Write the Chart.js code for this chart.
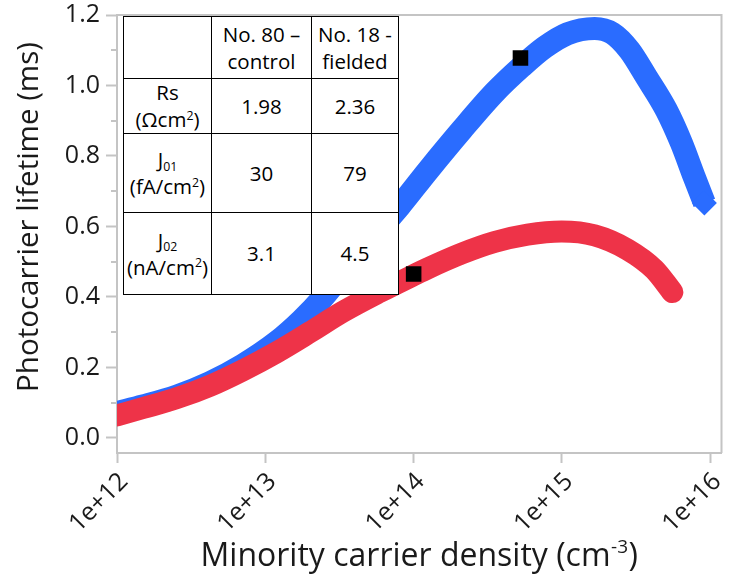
<!DOCTYPE html>
<html>
<head>
<meta charset="utf-8">
<title>Photocarrier lifetime vs minority carrier density</title>
<script src="https://cdn.jsdelivr.net/npm/chart.js@4.4.1/dist/chart.umd.min.js"></script>
<style>
  html, body { margin: 0; padding: 0; background: #fff; }
  #wrap { position: relative; width: 734px; height: 577px; }
  #plot { position: absolute; left: 0; top: 0; }
  #params {
    position: absolute; left: 123px; top: 16px;
    border-collapse: collapse; table-layout: fixed;
    background: #fff; font-family: "Open Sans", sans-serif; font-size: 20.5px; color: #000;
  }
  #params td {
    border: 1.5px solid #000; padding: 0; text-align: center; vertical-align: middle;
    line-height: 27px; white-space: nowrap;
  }
  #params sup, #params sub { font-size: 0.6em; line-height: 0; position: relative; vertical-align: baseline; }
  #params sup { top: -0.6em; }
  #params sub { top: 0.3em; }
</style>
</head>
<body>
<div id="wrap">
  <canvas id="plot" width="734" height="577"></canvas>
  <table id="params"></table>
</div>
<script>
// Upper curve (blue diamonds): minority carrier density (cm^-3) and lifetime (ms)
const densityBlue = [1.00e12, 1.50e12, 2.53e12, 4.23e12, 7.05e12, 1.19e13, 1.76e13, 2.44e13,
  4.33e13, 8.05e13, 1.24e14, 2.10e14, 3.51e14, 5.33e14, 7.62e14, 1.09e15, 1.66e15, 2.19e15,
  2.85e15, 3.71e15, 5.06e15, 6.38e15, 7.80e15, 9.12e15];
const lifetimeBlue = [0.072, 0.091, 0.119, 0.157, 0.207, 0.272, 0.335, 0.398,
  0.528, 0.658, 0.757, 0.873, 0.980, 1.053, 1.108, 1.147, 1.162, 1.148,
  1.100, 1.024, 0.930, 0.837, 0.740, 0.667];

// Lower curve (red circles)
const densityRed = [1.00e12, 1.50e12, 2.53e12, 4.23e12, 7.05e12, 1.19e13, 2.00e13, 3.33e13,
  5.90e13, 1.00e14, 1.24e14, 2.10e14, 3.51e14, 5.86e14, 9.93e14, 1.66e15, 2.76e15, 4.20e15, 5.55e15];
const lifetimeRed = [0.064, 0.085, 0.113, 0.148, 0.192, 0.243, 0.300, 0.358,
  0.414, 0.462, 0.481, 0.523, 0.556, 0.577, 0.586, 0.575, 0.535, 0.478, 0.414];

// Highlighted operating points (black squares)
const markerDensity = [1.00e14, 5.25e14];
const markerLifetime = [0.465, 1.078];

// Axis ticks
const xTickValues = [1e12, 1e13, 1e14, 1e15, 1e16];
const yTickValues = [0.0, 0.2, 0.4, 0.6, 0.8, 1.0, 1.2];
const yMinorTickValues = [0.1, 0.3, 0.5, 0.7, 0.9, 1.1];

// Inset parameter table
const tableHeader = ['', 'No. 80 –<br>control', 'No. 18 -<br>fielded'];
const tableRowLabels = ['Rs<br>(Ωcm<sup>2</sup>)', 'J<sub>01</sub><br>(fA/cm<sup>2</sup>)', 'J<sub>02</sub><br>(nA/cm<sup>2</sup>)'];
const tableControl = ['1.98', '30', '3.1'];
const tableFielded = ['2.36', '79', '4.5'];

const BLUE = '#2a6cff';
const RED = '#ee3348';
const AXIS_GREY = '#c4c4c4';
const TEXT = '#1a1a1a';
const FONT = '"Open Sans", sans-serif';

function buildTable() {
  const t = document.getElementById('params');
  const colW = [88, 100, 87];
  const rowH = [62, 55, 79, 82];
  let html = '<colgroup>' + colW.map(w => `<col style="width:${w}px">`).join('') + '</colgroup>';
  html += `<tr style="height:${rowH[0]}px">` + tableHeader.map(h => `<td>${h}</td>`).join('') + '</tr>';
  tableRowLabels.forEach((lab, i) => {
    html += `<tr style="height:${rowH[i + 1]}px"><td>${lab}</td><td>${tableControl[i]}</td><td>${tableFielded[i]}</td></tr>`;
  });
  t.innerHTML = html;
  t.style.width = colW.reduce((a, b) => a + b, 0) + 'px';
}

const toPoints = (xs, ys) => xs.map((x, i) => ({ x, y: ys[i] }));

const framePlugin = {
  id: 'frame',
  beforeDatasetsDraw(chart) {
    const { ctx, chartArea: a, scales } = chart;
    ctx.save();
    ctx.strokeStyle = AXIS_GREY;
    ctx.lineWidth = 2;
    ctx.beginPath();
    ctx.moveTo(a.left, a.top);
    ctx.lineTo(a.right, a.top);
    ctx.lineTo(a.right, a.bottom);
    ctx.stroke();
    // minor ticks on the lifetime axis
    yMinorTickValues.forEach(v => {
      const y = Math.round(scales.y.getPixelForValue(v));
      ctx.beginPath();
      ctx.moveTo(a.left - 6, y);
      ctx.lineTo(a.left, y);
      ctx.stroke();
    });
    ctx.restore();
  },
  afterDraw(chart) {
    const { ctx, chartArea: a } = chart;
    ctx.save();
    ctx.fillStyle = TEXT;
    // vertical axis title
    ctx.font = '29.5px ' + FONT;
    ctx.textAlign = 'center';
    ctx.textBaseline = 'middle';
    ctx.translate(30, 217);
    ctx.rotate(-Math.PI / 2);
    ctx.fillText('Photocarrier lifetime (ms)', 0, 0);
    ctx.setTransform(1, 0, 0, 1, 0, 0);
    // horizontal axis title with superscript exponent
    const main = 'Minority carrier density (cm';
    const sup = '-3';
    const tail = ')';
    const big = '32px ' + FONT;
    const small = '19px ' + FONT;
    ctx.textAlign = 'left';
    ctx.textBaseline = 'alphabetic';
    ctx.font = big;
    const wMain = ctx.measureText(main).width;
    const wTail = ctx.measureText(tail).width;
    ctx.font = small;
    const wSup = ctx.measureText(sup).width;
    const total = wMain + wSup + 1 + wTail;
    let x = (a.left + a.right) / 2 - total / 2;
    const base = 566;
    ctx.font = big;
    ctx.fillText(main, x, base);
    x += wMain;
    ctx.font = small;
    ctx.fillText(sup, x + 0.5, base - 13);
    x += wSup + 1;
    ctx.font = big;
    ctx.fillText(tail, x, base);
    ctx.restore();
  }
};

function draw() {
  buildTable();
  const lastBlue = densityBlue.length - 1;
  new Chart(document.getElementById('plot'), {
    type: 'scatter',
    data: {
      datasets: [
        {
          label: 'marked points',
          data: toPoints(markerDensity, markerLifetime),
          pointStyle: 'rect',
          pointRadius: 11,
          backgroundColor: '#000',
          borderWidth: 0,
          showLine: false,
          order: 0
        },
        {
          label: 'lower curve',
          data: toPoints(densityRed, lifetimeRed),
          borderColor: RED,
          backgroundColor: RED,
          borderWidth: 22,
          borderCapStyle: 'round',
          borderJoinStyle: 'round',
          cubicInterpolationMode: 'monotone',
          showLine: true,
          pointRadius: 0,
          clip: 0,
          order: 1
        },
        {
          label: 'upper curve',
          data: toPoints(densityBlue, lifetimeBlue),
          borderColor: BLUE,
          backgroundColor: BLUE,
          borderWidth: 23,
          borderCapStyle: 'butt',
          borderJoinStyle: 'round',
          cubicInterpolationMode: 'monotone',
          showLine: true,
          pointStyle: 'rectRot',
          pointRadius: c => (c.dataIndex === lastBlue) ? 12.5 : 0,
          pointBorderWidth: 0,
          clip: 0,
          order: 2
        }
      ]
    },
    options: {
      responsive: false,
      animation: false,
      events: [],
      layout: { padding: { top: 15, right: 12, left: 0, bottom: 0 } },
      plugins: { legend: { display: false }, tooltip: { enabled: false } },
      scales: {
        x: {
          type: 'logarithmic',
          position: 'bottom',
          min: 1e12,
          max: 1.19e16,
          afterBuildTicks: s => { s.ticks = xTickValues.map(v => ({ value: v })); },
          afterFit: s => { s.height = 124; s.paddingLeft = 0; s.paddingRight = 0; },
          ticks: {
            autoSkip: false,
            minRotation: 45,
            maxRotation: 45,
            padding: 4,
            labelOffset: 7,
            color: TEXT,
            font: { family: FONT, size: 25 },
            callback: v => '1e+' + Math.round(Math.log10(v))
          },
          grid: { drawOnChartArea: false, drawTicks: true, tickLength: 10, tickColor: AXIS_GREY, tickWidth: 2 },
          border: { display: true, color: AXIS_GREY, width: 2 }
        },
        y: {
          type: 'linear',
          min: -0.0426,
          max: 1.2,
          afterBuildTicks: s => { s.ticks = yTickValues.map(v => ({ value: v })); },
          afterFit: s => { s.width = 117; s.paddingTop = 0; s.paddingBottom = 0; },
          ticks: {
            padding: 6,
            color: TEXT,
            font: { family: FONT, size: 25 },
            callback: v => v.toFixed(1)
          },
          grid: { drawOnChartArea: false, drawTicks: true, tickLength: 11, tickColor: AXIS_GREY, tickWidth: 2 },
          border: { display: true, color: AXIS_GREY, width: 2 }
        }
      }
    },
    plugins: [framePlugin]
  });
}

if (document.fonts && document.fonts.load) {
  Promise.all([
    document.fonts.load('25px "Open Sans"'),
    document.fonts.load('32px "Open Sans"')
  ]).then(draw, draw);
} else {
  draw();
}
</script>
</body>
</html>
